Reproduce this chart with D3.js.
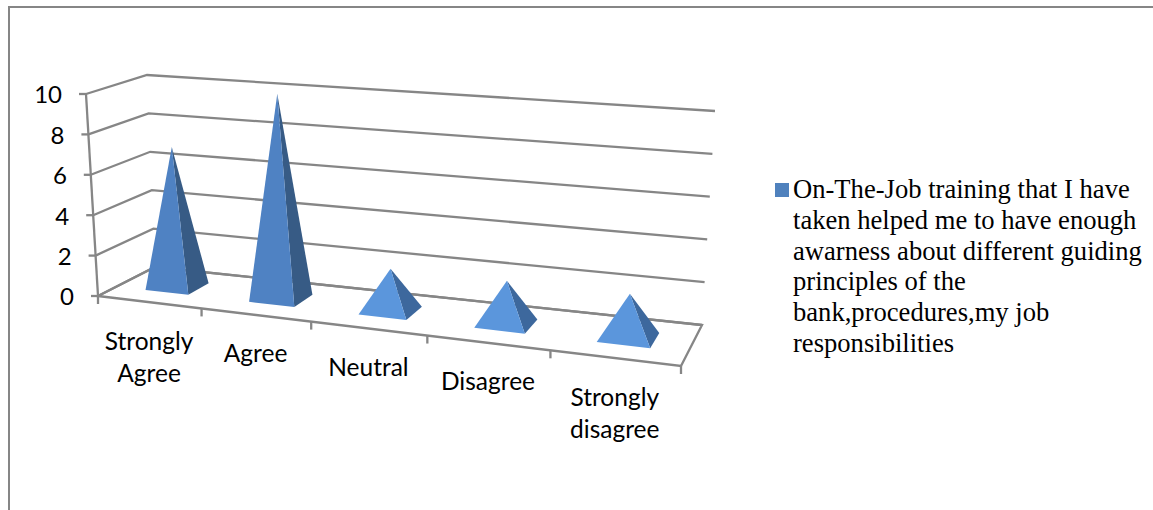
<!DOCTYPE html>
<html>
<head>
<meta charset="utf-8">
<script src="https://cdn.jsdelivr.net/npm/d3@7/dist/d3.min.js"></script>
<style>
  html, body { margin: 0; padding: 0; background: #fff; overflow: hidden; }
  svg { display: block; }
</style>
</head>
<body>
<svg id="chart" width="1153" height="510"></svg>
<script>
const categories = ["Strongly Agree", "Agree", "Neutral", "Disagree", "Strongly disagree"];
const values = [7, 10, 2, 2, 2];
const valueTicks = [0, 2, 4, 6, 8, 10];
const legendLines = [
  "On-The-Job training that I have",
  "taken helped me to have enough",
  "awarness about different guiding",
  "principles of the",
  "bank,procedures,my job",
  "responsibilities"
];

const AXIS = "#868686";
const sansFont = "Lato, 'Open Sans', sans-serif";
const serifFont = "'Liberation Serif', serif";

const svg = d3.select("#chart");

// Outer frame: only the top and left edges fall inside the canvas.
svg.append("path")
  .attr("d", "M9,510V7H1153")
  .attr("fill", "none").attr("stroke", AXIS).attr("stroke-width", 2);

// Floor corners of the 3D box and the matching corners at the top of the value range.
const FL = [98, 296], FR = [681, 366], BR = [702, 325], BL = [155, 267];
const topFL = [86, 94], topFR = [688, 138], topBR = [715, 111], topBL = [147, 75];

// Unit square to floor quad homography.
function buildFloor() {
  const sx = FL[0] - FR[0] + BR[0] - BL[0], sy = FL[1] - FR[1] + BR[1] - BL[1];
  const dx1 = FR[0] - BR[0], dx2 = BL[0] - BR[0], dy1 = FR[1] - BR[1], dy2 = BL[1] - BR[1];
  const det = dx1 * dy2 - dx2 * dy1;
  const g = (sx * dy2 - dx2 * sy) / det, h = (dx1 * sy - sx * dy1) / det;
  const a = FR[0] - FL[0] + g * FR[0], b = BL[0] - FL[0] + h * BL[0];
  const d = FR[1] - FL[1] + g * FR[1], f = BL[1] - FL[1] + h * BL[1];
  return (u, dep) => {
    const w = g * u + h * dep + 1;
    return [(a * u + b * dep + FL[0]) / w, (d * u + f * dep + FL[1]) / w];
  };
}
const floor = buildFloor();

// Slight easing of the category direction, softening the foreshortening along the front edge.
const easeU = u => u + 0.065 * u * (1 - u);

// Height vector at each floor corner; blended across the floor for any other point.
const rise = (top, base) => [top[0] - base[0], top[1] - base[1]];
const riseFL = rise(topFL, FL), riseFR = rise(topFR, FR), riseBR = rise(topBR, BR), riseBL = rise(topBL, BL);

function project(u, dep, v) {
  const ue = easeU(u);
  const base = floor(ue, dep);
  return [0, 1].map(k => {
    const front = riseFL[k] + (riseFR[k] - riseFL[k]) * ue;
    const back = riseBL[k] + (riseBR[k] - riseBL[k]) * ue;
    return base[k] + v * (front + (back - front) * dep);
  });
}

const yScale = d3.scaleLinear().domain([0, 10]).range([0, 1]);
const xBand = d3.scaleBand().domain(categories).range([0, 1]).paddingInner(0.58).paddingOuter(0.29);
const depthNear = 0.31, depthFar = 0.69;

const polyline = d3.line();

// Walls: one gridline per tick, running along the left wall and the back wall.
const grid = svg.append("g").attr("fill", "none").attr("stroke", AXIS).attr("stroke-width", 2.3);
grid.selectAll("path.wall").data(valueTicks).join("path")
  .attr("class", "wall")
  .attr("d", t => polyline([project(0, 0, yScale(t)), project(0, 1, yScale(t)), project(1, 1, yScale(t))]));

// Floor outline.
grid.append("path").attr("d", polyline([project(0, 0, 0), project(1, 0, 0), project(1, 1, 0), project(0, 1, 0)]) + "Z");

// Value axis with its tick marks.
grid.append("path").attr("d", polyline([project(0, 0, 0), project(0, 0, 1)]));
grid.selectAll("path.vtick").data(valueTicks).join("path")
  .attr("class", "vtick")
  .attr("d", t => {
    const p = project(0, 0, yScale(t));
    return polyline([p, [p[0] - 7, p[1]]]);
  });

// Category tick marks on the front edge of the floor.
grid.selectAll("path.ctick").data(d3.range(categories.length + 1)).join("path")
  .attr("class", "ctick")
  .attr("d", n => {
    const p = project(n / categories.length, 0, 0);
    return polyline([p, [p[0], p[1] + 8]]);
  });

// Shading gets a little darker as the faces of a pyramid get steeper.
const frontShade = d3.scaleLinear().domain([2, 7]).range(["#5b96dc", "#4f82c3"]).clamp(true);
const sideShade = d3.scaleLinear().domain([2, 7]).range(["#3d689d", "#375b85"]).clamp(true);

const pyramids = svg.append("g").selectAll("g").data(categories.map((c, n) => ({ c, v: values[n] }))).join("g");
function corners(p) {
  const u0 = xBand(p.c), u1 = u0 + xBand.bandwidth(), um = (u0 + u1) / 2;
  return {
    fl: project(u0, depthNear, 0), fr: project(u1, depthNear, 0), br: project(u1, depthFar, 0),
    apex: project(um, (depthNear + depthFar) / 2, yScale(p.v))
  };
}
pyramids.append("path")
  .attr("d", p => { const q = corners(p); return polyline([q.fr, q.br, q.apex]) + "Z"; })
  .attr("fill", p => sideShade(p.v));
pyramids.append("path")
  .attr("d", p => { const q = corners(p); return polyline([q.fl, q.fr, q.apex]) + "Z"; })
  .attr("fill", p => frontShade(p.v));

// Value labels.
svg.append("g").selectAll("text").data(valueTicks).join("text")
  .attr("x", t => project(0, 0, yScale(t))[0] - 24)
  .attr("y", t => project(0, 0, yScale(t))[1] + 1)
  .attr("dy", "0.35em")
  .attr("text-anchor", "end")
  .attr("font-family", sansFont).attr("font-size", 24).attr("fill", "#000")
  .text(t => t);

// Category labels, wrapped at the space and centred under each slot.
const catLabels = svg.append("g").selectAll("text").data(categories).join("text")
  .attr("text-anchor", "middle")
  .attr("font-family", sansFont).attr("font-size", 24.5).attr("fill", "#000");
catLabels.each(function (c, n) {
  const p = project((n + 0.5) / categories.length, 0, 0);
  const words = c.split(" ");
  const sel = d3.select(this);
  words.forEach((word, j) => {
    sel.append("tspan").attr("x", p[0]).attr("y", p[1] + 39 + j * 32).attr("dy", "0.35em").text(word);
  });
});

// Legend.
const legend = svg.append("g");
legend.append("rect").attr("x", 775).attr("y", 183).attr("width", 14).attr("height", 14).attr("fill", "#4f81bd");
legend.selectAll("text").data(legendLines).join("text")
  .attr("x", 793)
  .attr("y", (d, n) => 198 + n * 30.8)
  .attr("font-family", serifFont).attr("font-size", 26.6).attr("fill", "#000")
  .text(d => d);
</script>
</body>
</html>
